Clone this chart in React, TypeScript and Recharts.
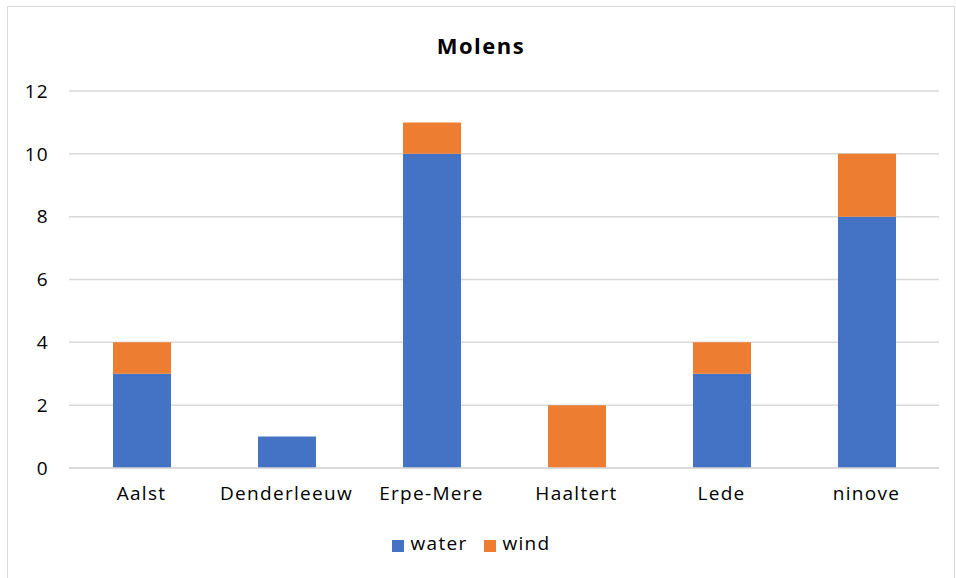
import { BarChart, Bar, XAxis, YAxis, CartesianGrid, Legend } from 'recharts'

const gemeenten = ['Aalst', 'Denderleeuw', 'Erpe-Mere', 'Haaltert', 'Lede', 'ninove']
const water = [3, 1, 10, 0, 3, 8]
const wind = [1, 0, 1, 2, 1, 2]
const yTicks = [0, 2, 4, 6, 8, 10, 12]

const FONT = '"Open Sans", sans-serif'
const tickStyle = { fill: '#000', fontSize: 19, fontFamily: FONT, letterSpacing: 1.3 }

export default function App() {
  const data = gemeenten.map((g, i) => ({ name: g, water: water[i], wind: wind[i] }))

  return (
    <div
      style={{
        position: 'absolute',
        left: 7,
        top: 6,
        width: 946,
        height: 580,
        border: '1px solid #d9d9d9',
        background: '#fff',
        fontFamily: FONT,
      }}
    >
      <div
        style={{
          position: 'absolute',
          top: 23,
          left: 0,
          width: '100%',
          textAlign: 'center',
          fontSize: 22,
          fontWeight: 700,
          letterSpacing: 1.5,
          color: '#000',
        }}
      >
        Molens
      </div>
      <BarChart
        width={946}
        height={572}
        data={data}
        margin={{ top: 84, right: 15, bottom: 23, left: 11 }}
      >
        <CartesianGrid vertical={false} stroke="#d9d9d9" strokeWidth={1.5} />
        <XAxis
          dataKey="name"
          height={63}
          tickLine={false}
          axisLine={{ stroke: '#d9d9d9', strokeWidth: 1.5 }}
          tick={tickStyle}
          tickMargin={13}
          interval={0}
        />
        <YAxis
          width={50}
          domain={[0, 12]}
          ticks={yTicks}
          tickLine={false}
          axisLine={false}
          tick={tickStyle}
          tickMargin={14}
        />
        <Legend
          verticalAlign="bottom"
          align="center"
          iconType="square"
          iconSize={12}
          itemSorter={null}
          wrapperStyle={{ lineHeight: '24px' }}
          formatter={(value) => (
            <span style={{ color: '#000', fontSize: 19, fontFamily: FONT, letterSpacing: 1.3, marginLeft: 3, marginRight: 6 }}>
              {value}
            </span>
          )}
        />
        <Bar dataKey="water" stackId="a" fill="#4472C4" barSize={58} isAnimationActive={false} />
        <Bar dataKey="wind" stackId="a" fill="#ED7D31" barSize={58} isAnimationActive={false} />
      </BarChart>
    </div>
  )
}
